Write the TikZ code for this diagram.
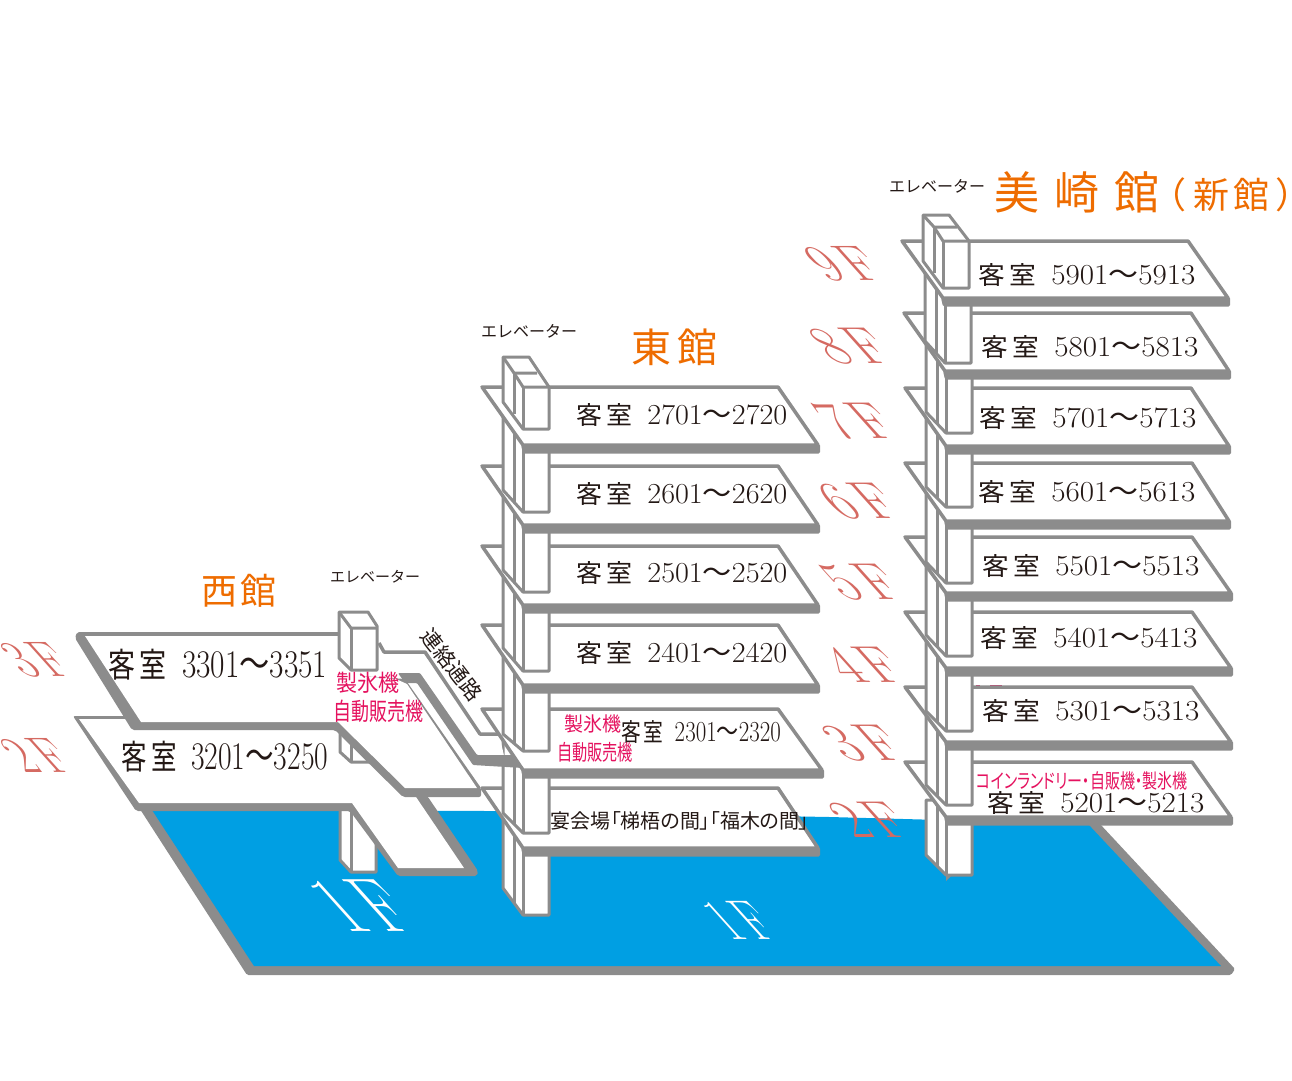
\documentclass[tikz,border=0pt]{standalone}
\usepackage{fontspec}
\usepackage{graphicx}
\newfontfamily\cjk{Noto Sans CJK JP}
\newfontfamily\cjkp{Noto Sans CJK JP}[RawFeature=+palt]
\definecolor{floorgray}{HTML}{8C8C8C}
\definecolor{seablue}{HTML}{009FE3}
\definecolor{titleorange}{HTML}{EE6C00}
\definecolor{pinklabel}{HTML}{E5125F}
\definecolor{salmon}{HTML}{D56A62}
\definecolor{ink}{HTML}{231815}
\tikzset{
  slabline/.style={draw=floorgray,fill=white,line width=3.5pt,line join=round},
  wall/.style={draw=floorgray,fill=white,line width=3pt,line join=round},
  wallline/.style={draw=floorgray,line width=3pt,line join=round},
  txt/.style={inner sep=0pt,outer sep=0pt,text=ink},
  pinktxt/.style={inner sep=0pt,outer sep=0pt,text=pinklabel},
  titletxt/.style={inner sep=0pt,outer sep=0pt,text=titleorange}
}
% left tip, top y, top right x, right tip x, depth
\newcommand\slab[5]{%
  \fill[floorgray,rounded corners=1.5pt] ({#1+39},{#2+#5}) -- ({#4+2},{#2+#5-1}) -- ({#4+2},{#2+#5+8.5}) -- ({#1+41},{#2+#5+8.5}) -- cycle;
  \filldraw[slabline] (#1,#2) -- (#3,#2) -- (#4,{#2+#5}) -- ({#1+41},{#2+#5}) -- cycle;}
% left tip, top y, left bottom y, front bottom y
\newcommand\colseg[4]{%
  \filldraw[wall] ({#1+21},#2) -- ({#1+21},#3) -- ({#1+41},#4) -- ({#1+67},#4) -- ({#1+67},#2) -- cycle;
  \draw[wallline] ({#1+32},#2) -- ({#1+32},{#3+0.55*(#4-#3)});
  \draw[wallline] ({#1+41},#2) -- ({#1+41},#4);}
% left tip, slab y, front bottom y, rise
\newcommand\topbox[4]{%
  \filldraw[wall] ({#1+21},{#2-#4}) -- ({#1+47},{#2-#4}) -- ({#1+67},#2) -- ({#1+67},#3) -- ({#1+41},#3) -- ({#1+21},{#3-27}) -- cycle;
  \draw[wallline] ({#1+21},{#2-#4}) -- ({#1+32},{#2-14}) -- ({#1+55},{#2-14});
  \draw[wallline] ({#1+32},{#2-14}) -- ({#1+41},#2) -- ({#1+67},#2);
  \draw[wallline] ({#1+32},{#2-14}) -- ({#1+32},{#3-15});
  \draw[wallline] ({#1+41},#2) -- ({#1+41},#3);}
% x, y, xscale, yscale, first, last
\newcommand\room[6]{\node[txt] (r#5) at (#1,#2) {\scalebox{#3}[#4]{{\cjk\fontsize{25}{25}\selectfont 客\hspace{4pt}室}\hspace{14pt}{\fontsize{29}{29}\selectfont #5}{\cjk\fontsize{28}{28}\selectfont ～}{\fontsize{29}{29}\selectfont #6}}};}
% name, x, y, digit, colour, size, xscale
\newcommand\floorlab[7]{\begin{scope}[shift={(#2,#3)},xslant=-0.9]
  \node[transform shape,inner sep=0pt,text=#5] (#1) at (0,0) {\scalebox{#7}[1]{\fontsize{#6}{#6}\selectfont #4\hspace{0.14em}F}};
  \end{scope}}
% name, x, y, size, xscale, yscale, text
\newcommand\pinklab[7]{\node[pinktxt] (#1) at (#2,#3) {\scalebox{#5}[#6]{\cjkp\fontsize{#4}{#4}\selectfont #7}};}
\begin{document}
\begin{tikzpicture}[x=1pt,y=-1pt]
\useasboundingbox (0,0) rectangle (1292,1080);
% ground
\fill[floorgray,rounded corners=1.5pt] (138,806) -- (1100,824) -- (1235,969) -- (1231,975) -- (247,975) -- cycle;
\fill[seablue] (152,810) -- (490,811) -- (830,817) -- (1088,824) -- (1221,966) -- (254,966) -- cycle;
% west lower column
\filldraw[wall] (340,800) -- (340,860) -- (351,872) -- (376,872) -- (376,800) -- cycle;
\draw[wallline] (351,800) -- (351,872);
% west 2F with wing
\fill[floorgray,rounded corners=2pt] (73,716) -- (340,716) -- (428,797) -- (478,871) -- (477,876) -- (398,876) -- (350,811) -- (136,811) -- cycle;
\fill[white] (79,719) -- (340,719) -- (416,797) -- (464,868) -- (398,868) -- (352,803) -- (139,803) -- cycle;
% west column between floors
\filldraw[wall] (340,715) -- (340,752) -- (351,762) -- (376,762) -- (376,715) -- cycle;
\draw[wallline] (351,715) -- (351,762);
% west 3F with wing
\fill[floorgray,rounded corners=2pt] (77,632) -- (360,632) -- (360,676) -- (405,679) -- (481,788) -- (481,797) -- (403,797) -- (335,730) -- (132,730) -- (75,638) -- cycle;
\fill[white] (85,636) -- (360,636) -- (360,676) -- (396,679) -- (407,684) -- (477,788) -- (405,788) -- (338,722) -- (141,722) -- cycle;
% east, lowest parts
\colseg{482}{800}{888}{915}
\slab{482}{788}{778}{818}{60}
\colseg{482}{735}{813}{833}
% connecting passage
\fill[white] (384,652) -- (425,652) -- (480,734) -- (499,734) -- (505,760) -- (477,757) -- (420,675) -- (370,675) -- cycle;
\draw[slabline,fill=none] (379,643) -- (384,652) -- (425,652) -- (480,734) -- (499,734);
\fill[floorgray,rounded corners=1pt] (398,673) -- (420,673) -- (477,755) -- (514,755) -- (523,768) -- (473,765) -- (417,683) -- (405,683) -- cycle;
% east floors
\slab{482}{709}{778}{822}{61}
\colseg{482}{656}{734}{751}
\slab{482}{625}{778}{818}{60}
\colseg{482}{575}{648}{671}
\slab{482}{546}{778}{818}{59}
\colseg{482}{495}{570}{592}
\slab{482}{466}{778}{818}{59}
\colseg{482}{415}{490}{512}
\slab{482}{387}{778}{818}{58}
\topbox{482}{387}{429}{30}
% west top box
\filldraw[wall] (339,612) -- (368,612) -- (377,626) -- (377,670) -- (351,670) -- (339,658) -- cycle;
\draw[wallline] (339,612) -- (351,628) -- (377,628);
\draw[wallline] (351,628) -- (351,670);
% Misaki
\colseg{905}{800}{855}{875}
\fill[floorgray] (946,875) -- (952,875) -- (946,881) -- cycle;
\fill[pinklabel] (976,684.5) rectangle (980,686);
\fill[pinklabel] (990,684.5) rectangle (1002,686);
\slab{905}{762}{1192}{1231}{55}
\colseg{905}{715}{785}{805}
\slab{905}{687}{1192}{1231}{55}
\colseg{905}{640}{711}{731}
\slab{905}{612}{1192}{1231}{56}
\colseg{905}{565}{635}{656}
\slab{905}{537}{1192}{1231}{56}
\colseg{905}{490}{562}{583}
\slab{905}{463}{1192}{1229}{58}
\colseg{905}{415}{487}{507}
\slab{905}{388}{1191}{1229}{58}
\colseg{905}{340}{412}{433}
\slab{904}{313}{1191}{1229}{58}
\colseg{904}{265}{341}{363}
\slab{902}{241}{1188}{1228}{57}
\topbox{902}{241}{288}{26}
% titles
\node[titletxt] (west) at (239,591) {\cjk\fontsize{36}{36}\selectfont 西\hspace{4pt}館};
\node[titletxt] (east) at (674,347) {\cjk\fontsize{40}{40}\selectfont 東\hspace{6pt}館};
\node[titletxt] (misaki) at (1077,192) {\cjk\fontsize{45}{45}\selectfont 美\hspace{15pt}崎\hspace{15pt}館};
\node[titletxt] (shinkan) at (1231,195) {\cjkp\fontsize{36}{36}\selectfont （\hspace{8pt}新\hspace{4pt}館\hspace{8pt}）};
% elevators
\node[txt] (elevw) at (375,577) {\cjk\fontsize{15}{15}\selectfont エレベーター};
\node[txt] (eleve) at (529,331) {\cjk\fontsize{16}{16}\selectfont エレベーター};
\node[txt] (elevm) at (937,186) {\cjk\fontsize{16}{16}\selectfont エレベーター};
% rooms
\room{218}{665}{1.08}{1.35}{3301}{3351}
\room{225}{757}{1.02}{1.35}{3201}{3250}
\room{682}{415}{1.04}{1}{2701}{2720}
\room{682}{494}{1.04}{1}{2601}{2620}
\room{682}{573}{1.04}{1}{2501}{2520}
\room{682}{653}{1.04}{1}{2401}{2420}
\room{701}{732}{0.79}{1}{2301}{2320}
\room{1087}{275}{1.07}{1}{5901}{5913}
\room{1090}{347}{1.07}{1}{5801}{5813}
\room{1088}{418}{1.07}{1}{5701}{5713}
\room{1087}{492}{1.07}{1}{5601}{5613}
\room{1091}{566}{1.07}{1}{5501}{5513}
\room{1089}{638}{1.07}{1}{5401}{5413}
\room{1091}{711}{1.07}{1}{5301}{5313}
\room{1096}{803}{1.07}{1}{5201}{5213}
\node[txt] (banquet) at (680,821) {\cjkp\fontsize{20}{20}\selectfont 宴会場「梯梧の間」「福木の間」};
\node[txt,rotate=-52] (link) at (452,665) {\cjk\fontsize{21}{21}\selectfont 連絡通路};
% pink
\pinklab{icew}{368}{683}{21}{1}{1.1}{製氷機}
\pinklab{vendw}{378}{711}{18}{1}{1.35}{自動販売機}
\pinklab{icee}{593}{724}{19}{1}{1.05}{製氷機}
\pinklab{vende}{595}{752}{16}{0.95}{1.35}{自動販売機}
\pinklab{laundry}{1082}{781}{19}{0.79}{1.05}{コインランドリー・自販機・製氷機}
% floor labels
\floorlab{f3w}{37}{660}{3}{salmon}{50}{0.92}
\floorlab{f2w}{37}{755}{2}{salmon}{50}{0.92}
\floorlab{f9}{844}{264}{9}{salmon}{50}{1.05}
\floorlab{f8}{851}{346}{8}{salmon}{52}{1.05}
\floorlab{f7}{856}{421}{7}{salmon}{52}{1.05}
\floorlab{f6}{859}{501}{6}{salmon}{52}{1.05}
\floorlab{f5}{862}{582}{5}{salmon}{52}{1.05}
\floorlab{f4}{864}{665}{4}{salmon}{52}{1.05}
\floorlab{f3}{864}{743}{3}{salmon}{52}{1.05}
\floorlab{f2}{870}{820}{2}{salmon}{52}{1.05}
\floorlab{g1w}{362}{906}{1}{white}{76}{0.85}
\floorlab{g1e}{740}{920}{1}{white}{56}{0.78}
\end{tikzpicture}
\end{document}
